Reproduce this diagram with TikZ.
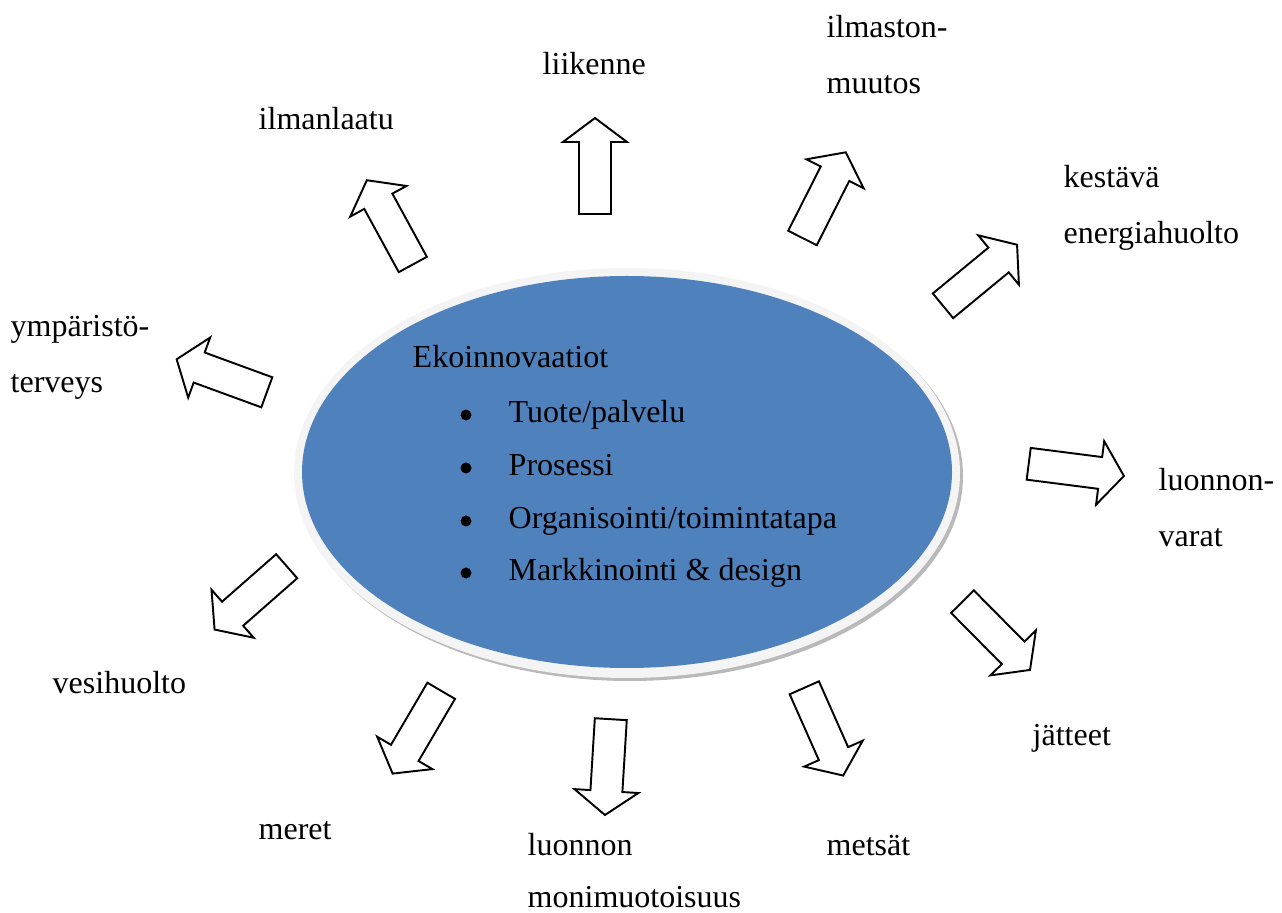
\documentclass[tikz,border=0pt]{standalone}
\usepackage{fontspec}
\setmainfont{Liberation Serif}
\definecolor{ellblue}{HTML}{4F81BD}

\begin{document}
\begin{tikzpicture}[x=0.01cm, y=-0.01cm, font=\fontsize{9.1pt}{11pt}\selectfont,
		lbl/.style={anchor=base west, inner sep=0pt},
		dot/.style={circle, fill=black, inner sep=0pt, minimum size=0.11cm},
		pil/.style={draw=black, fill=white, line width=0.55pt, line join=miter}]
				\useasboundingbox (0,0) rectangle (1282,913);
				% ellipse with rim and shadow
				\fill[gray!55] (630,476) ellipse [x radius=333, y radius=205];
				\fill[gray!9] (627,473) ellipse [x radius=333, y radius=205];
				\fill[ellblue] (627,472) ellipse [x radius=325, y radius=196];
				\node[lbl] (E) at (412,368) {Ekoinnovaatiot};
				\node[dot] (d1) at (466,415) {};
				\node[dot] (d2) at (466,468) {};
				\node[dot] (d3) at (466,521) {};
				\node[dot] (d4) at (466,573) {};
				\node[lbl] (T1) at (508,423) {Tuote/palvelu};
				\node[lbl] (T2) at (508,476) {Prosessi};
				\node[lbl] (T3) at (508,529) {Organisointi/toimintatapa};
				\node[lbl] (T4) at (508,581) {Markkinointi \& design};
				% block arrows: base x/y, angle
				\foreach \x/\y/\a in {595/214/90, 802.5/238/63.2, 412.8/264.5/118.6,
						943/305.8/39.5, 266.8/392.3/159.9, 1028.7/463.8/-7.3,
						286.7/566.2/221.3, 962.5/601.7/-45.3, 441.2/690.8/239.6,
						610.8/719.2/266.5, 804.3/687.8/-66.1}
					\draw[pil, shift={(\x,\y)}, rotate=\a] (0,-16) -- (72,-16) -- (72,-32)
						-- (96,0) -- (72,32) -- (72,16) -- (0,16) -- cycle;
				% labels
				\node[lbl] (liik) at (542,75) {liikenne};
				\node[lbl] (ilm1) at (826,38) {ilmaston-};
				\node[lbl] (ilm2) at (826,94) {muutos};
				\node[lbl] (laatu) at (258,130) {ilmanlaatu};
				\node[lbl] (kest1) at (1063,188) {kestävä};
				\node[lbl] (kest2) at (1063,244) {energiahuolto};
				\node[lbl] (ymp1) at (10,337) {ympäristö-};
				\node[lbl] (ymp2) at (10,393) {terveys};
				\node[lbl] (luon1) at (1158,491) {luonnon-};
				\node[lbl] (luon2) at (1158,547) {varat};
				\node[lbl] (vesi) at (52,693) {vesihuolto};
				\node[lbl] (jat) at (1032,745) {jätteet};
				\node[lbl] (meret) at (258,839) {meret};
				\node[lbl] (moni1) at (527,855) {luonnon};
				\node[lbl] (moni2) at (527,907) {monimuotoisuus};
				\node[lbl] (mets) at (826,855) {metsät};
			\end{tikzpicture}
\end{document}
